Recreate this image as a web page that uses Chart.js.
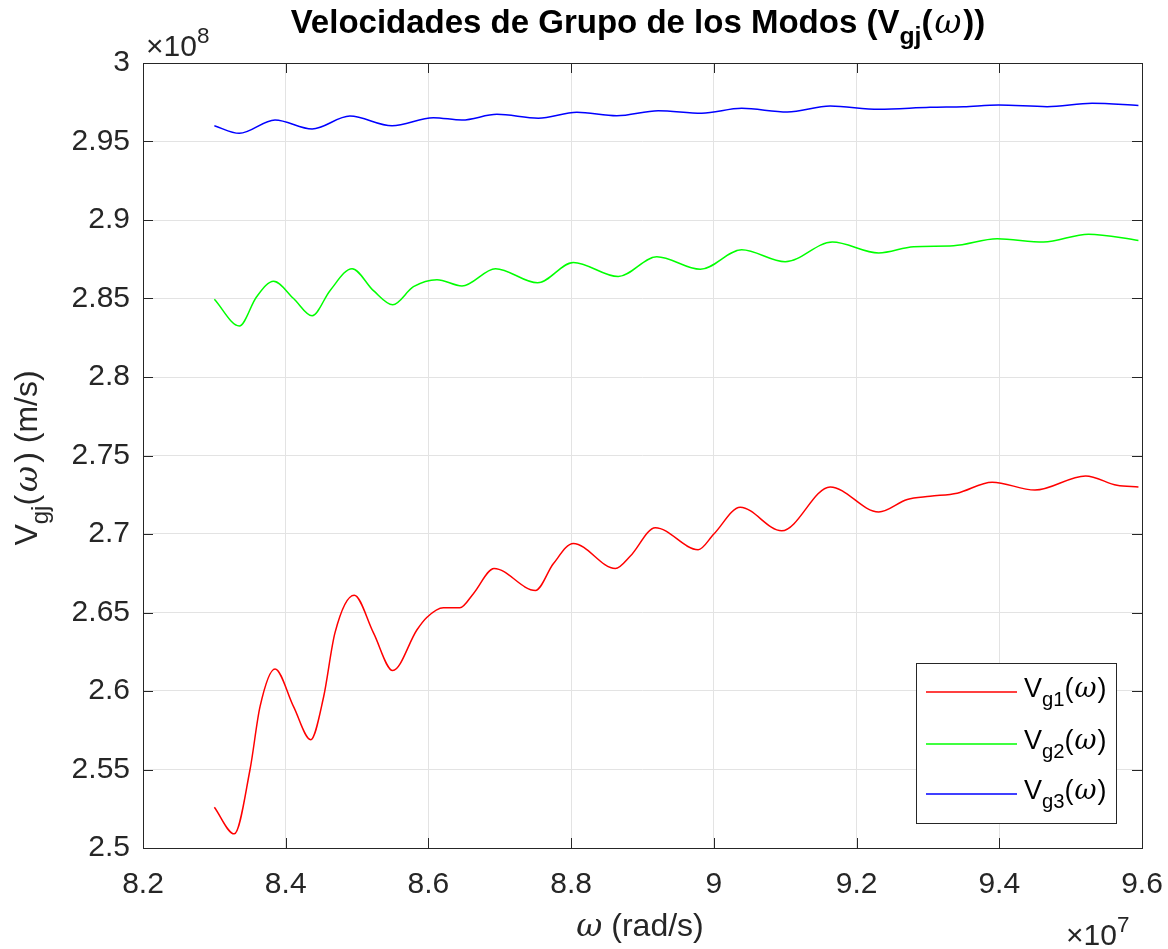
<!DOCTYPE html>
<html>
<head>
<meta charset="utf-8">
<script src="https://cdn.jsdelivr.net/npm/chart.js@4"></script>
<style>
  body { margin: 0; background: #fff; }
</style>
</head>
<body>
<canvas id="c" width="1168" height="949"></canvas>
<script>
// omega in units of 1e7 rad/s, velocities in units of 1e8 m/s
const xTicks = [8.2, 8.4, 8.6, 8.8, 9.0, 9.2, 9.4, 9.6];
const yTicks = [2.5, 2.55, 2.6, 2.65, 2.7, 2.75, 2.8, 2.85, 2.9, 2.95, 3.0];

const w1 = [8.300, 8.328, 8.350, 8.364, 8.385, 8.411, 8.435, 8.453, 8.469, 8.496, 8.523, 8.550, 8.584, 8.598, 8.621, 8.644, 8.663, 8.692, 8.750, 8.775, 8.803, 8.862, 8.883, 8.918, 8.978, 9.000, 9.037, 9.095, 9.163, 9.231, 9.271, 9.303, 9.341, 9.390, 9.450, 9.521, 9.565, 9.595];
const vg1 = [2.526, 2.509, 2.550, 2.590, 2.614, 2.590, 2.569, 2.596, 2.637, 2.661, 2.637, 2.613, 2.639, 2.647, 2.653, 2.653, 2.662, 2.678, 2.664, 2.681, 2.694, 2.678, 2.686, 2.704, 2.690, 2.700, 2.717, 2.702, 2.730, 2.714, 2.722, 2.724, 2.726, 2.733, 2.728, 2.737, 2.731, 2.730];

const w2 = [8.300, 8.335, 8.359, 8.383, 8.411, 8.437, 8.462, 8.493, 8.523, 8.550, 8.579, 8.612, 8.647, 8.694, 8.753, 8.803, 8.866, 8.920, 8.981, 9.039, 9.100, 9.166, 9.231, 9.280, 9.336, 9.397, 9.462, 9.525, 9.595];
const vg2 = [2.8495, 2.8325, 2.851, 2.861, 2.850, 2.839, 2.855, 2.869, 2.855, 2.846, 2.8575, 2.862, 2.858, 2.869, 2.860, 2.873, 2.864, 2.8766, 2.8686, 2.881, 2.8734, 2.886, 2.879, 2.883, 2.8836, 2.888, 2.886, 2.891, 2.887];

const w3 = [8.300, 8.335, 8.385, 8.437, 8.490, 8.549, 8.607, 8.647, 8.696, 8.754, 8.808, 8.864, 8.922, 8.983, 9.039, 9.103, 9.163, 9.231, 9.303, 9.350, 9.399, 9.467, 9.530, 9.595];
const vg3 = [2.960, 2.9552, 2.9637, 2.958, 2.9662, 2.960, 2.9652, 2.9637, 2.9673, 2.9648, 2.9686, 2.9664, 2.9696, 2.968, 2.9711, 2.9688, 2.9726, 2.9705, 2.9718, 2.9722, 2.9732, 2.9722, 2.9743, 2.973];

const seriesNames = ['g1', 'g2', 'g3'];
const seriesColors = ['#ff0000', '#00ff00', '#0000ff'];

const toPts = (xs, ys) => xs.map((x, i) => ({ x: x, y: ys[i] }));

const FONT = '"Liberation Sans", Arial, sans-serif';
const INK = '#262626';

// draw a run of text pieces: {t, sub, sup, bold, italic, serif}
function drawRich(ctx, parts, x, y, size, align) {
    const setFont = p => {
        const s = (p.sub || p.sup) ? size * 0.75 : size;
        ctx.font = (p.italic ? 'italic ' : '') + (p.bold ? 'bold ' : '') + s + 'px ' + (p.serif ? '"DejaVu Serif", serif' : FONT);
    };
    const widths = parts.map(p => { setFont(p); return ctx.measureText(p.t).width + (p.pad || 0) * 2; });
    const total = widths.reduce((a, b) => a + b, 0);
    let cx = align === 'center' ? x - total / 2 : x;
    parts.forEach((p, i) => {
        setFont(p);
        const dy = p.sub ? size * 0.33 : (p.sup ? -size * 0.45 : 0);
        ctx.fillText(p.t, cx + (p.pad || 0), y + dy);
        cx += widths[i];
    });
}

const decorations = {
    id: 'decorations',
    afterDraw(chart) {
        const { ctx, chartArea: a, scales } = chart;
        ctx.save();
        // box
        ctx.strokeStyle = INK;
        ctx.lineWidth = 1;
        ctx.strokeRect(a.left + 0.5, a.top + 0.5, a.right - a.left, a.bottom - a.top);
        // inner ticks on all sides
        ctx.beginPath();
        xTicks.forEach(v => {
            const px = Math.round(scales.x.getPixelForValue(v)) + 0.5;
            ctx.moveTo(px, a.bottom); ctx.lineTo(px, a.bottom - 10);
            ctx.moveTo(px, a.top); ctx.lineTo(px, a.top + 10);
        });
        yTicks.forEach(v => {
            const py = Math.round(scales.y.getPixelForValue(v)) + 0.5;
            ctx.moveTo(a.left, py); ctx.lineTo(a.left + 10, py);
            ctx.moveTo(a.right, py); ctx.lineTo(a.right - 10, py);
        });
        ctx.stroke();

        ctx.fillStyle = '#000';
        ctx.textBaseline = 'alphabetic';
        ctx.textAlign = 'left';
        // title
        drawRich(ctx, [
            { t: 'Velocidades de Grupo de los Modos (V', bold: true },
            { t: 'gj', bold: true, sub: true },
            { t: '(', bold: true },
            { t: 'ω', italic: true, serif: true, pad: 2 },
            { t: '))', bold: true }
        ], 638, 33, 33, 'center');

        ctx.fillStyle = INK;
        // x axis title
        drawRich(ctx, [
            { t: 'ω', italic: true, serif: true },
            { t: ' (rad/s)' }
        ], 640, 936, 32, 'center');

        // y axis title
        ctx.save();
        ctx.translate(37, 458);
        ctx.rotate(-Math.PI / 2);
        drawRich(ctx, [
            { t: 'V' },
            { t: 'gj', sub: true },
            { t: '(' },
            { t: 'ω', italic: true, serif: true, pad: 3 },
            { t: ') (m/s)' }
        ], 0, 0, 32, 'center');
        ctx.restore();

        // exponents
        drawRich(ctx, [{ t: '×10' }, { t: '8', sup: true }], 146, 56, 30, 'left');
        drawRich(ctx, [{ t: '×10' }, { t: '7', sup: true }], 1066, 945, 30, 'left');

        // legend
        const lx = 916, ly = 663, lw = 200, lh = 160;
        ctx.fillStyle = '#fff';
        ctx.fillRect(lx, ly, lw, lh);
        ctx.strokeStyle = INK;
        ctx.strokeRect(lx + 0.5, ly + 0.5, lw, lh);
        const rows = [692, 744, 794];
        seriesNames.forEach((n, i) => {
            ctx.strokeStyle = seriesColors[i];
            ctx.lineWidth = 1.5;
            ctx.beginPath();
            ctx.moveTo(926, rows[i]); ctx.lineTo(1017, rows[i]);
            ctx.stroke();
            ctx.fillStyle = '#000';
            drawRich(ctx, [
                { t: 'V' },
                { t: n, sub: true },
                { t: '(' },
                { t: 'ω', italic: true, serif: true, pad: 1 },
                { t: ')' }
            ], 1024, rows[i] + 5, 27, 'left');
        });
        ctx.restore();
    }
};

new Chart(document.getElementById('c').getContext('2d'), {
    type: 'line',
    data: {
        datasets: [
            { label: 'Vg1', data: toPts(w1, vg1), borderColor: seriesColors[0] },
            { label: 'Vg2', data: toPts(w2, vg2), borderColor: seriesColors[1] },
            { label: 'Vg3', data: toPts(w3, vg3), borderColor: seriesColors[2] }
        ].map(d => Object.assign(d, { borderWidth: 1.5, pointRadius: 0, cubicInterpolationMode: 'monotone', fill: false }))
    },
    options: {
        responsive: false,
        animation: false,
        layout: { padding: { left: 0, top: 63, right: 26, bottom: 0 } },
        plugins: { legend: { display: false }, title: { display: false }, tooltip: { enabled: false } },
        scales: {
            x: {
                type: 'linear', min: 8.2, max: 9.6,
                afterBuildTicks: s => { s.ticks = xTicks.map(v => ({ value: v })); },
                afterFit: s => { s.height = 101; s.paddingLeft = 0; s.paddingRight = 0; },
                border: { display: false },
                grid: { color: '#e3e3e3', drawTicks: false },
                ticks: { padding: 19, color: INK, font: { family: FONT, size: 30 }, callback: v => String(+v.toFixed(1)) }
            },
            y: {
                type: 'linear', min: 2.5, max: 3.0,
                afterBuildTicks: s => { s.ticks = yTicks.map(v => ({ value: v })); },
                afterFit: s => { s.width = 143; s.paddingTop = 0; s.paddingBottom = 0; },
                border: { display: false },
                grid: { color: '#e3e3e3', drawTicks: false },
                ticks: { padding: 13, color: INK, font: { family: FONT, size: 30 }, callback: v => String(+v.toFixed(2)) }
            }
        }
    },
    plugins: [decorations]
});
</script>
</body>
</html>
